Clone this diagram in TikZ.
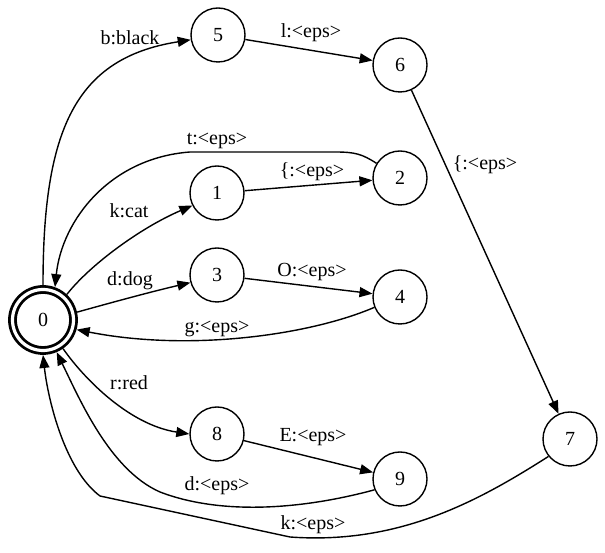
\documentclass[tikz,border=0pt]{standalone}
\usepackage{fontspec}
\setmainfont{Liberation Serif}
\usetikzlibrary{arrows.meta}

\begin{document}
\begin{tikzpicture}[
  x=1pt,y=1pt,
  line width=1.4pt,
  state/.style={draw,circle,minimum size=54pt,inner sep=0pt,font=\fontsize{20}{24}\selectfont},
  acc/.style={state,line width=2.8pt,double,double distance=3.2pt,minimum size=61pt,outer sep=4.5pt},
  lbl/.style={font=\fontsize{20}{24}\selectfont,inner sep=0pt,text height=14pt,text depth=4.5pt},
  >={Triangle[length=13pt,width=10pt]}]
\useasboundingbox (0,0) rectangle (605,553);
% states
\node[acc]   (n0) at (43,233)  {0};
\node[state] (n5) at (218,518) {5};
\node[state] (n6) at (400,488) {6};
\node[state] (n1) at (217,360) {1};
\node[state] (n2) at (400,375) {2};
\node[state] (n3) at (217,278) {3};
\node[state] (n4) at (400,256) {4};
\node[state] (n8) at (217,119) {8};
\node[state] (n9) at (400,74)  {9};
\node[state] (n7) at (570,114) {7};
% labels
\node[lbl] (lblack) at (130,513) {b:black};
\node[lbl] (l56)    at (311,520) {l:<eps>};
\node[lbl] (l67)    at (485,388) {\{:<eps>};
\node[lbl] (l20)    at (217,413) {t:<eps>};
\node[lbl] (l12)    at (312,381) {\{:<eps>};
\node[lbl] (lcat)   at (129,340) {k:cat};
\node[lbl] (ldog)   at (130,272) {d:dog};
\node[lbl] (l34)    at (312,281) {O:<eps>};
\node[lbl] (l40)    at (217,225) {g:<eps>};
\node[lbl] (lred)   at (129,168) {r:red};
\node[lbl] (l89)    at (313,116) {E:<eps>};
\node[lbl] (l90)    at (217,67)  {d:<eps>};
\node[lbl] (l70)    at (313,28)  {k:<eps>};
% transitions
\draw[->] (n0.90) .. controls (43,423) and (75,495) .. (n5.190);
\draw[->] (n5) -- (n6);
\draw[->] (n6) -- (n7);
\draw[->] (n2.148) .. controls (362,399) and (355,401) .. (335,401) -- (190,401)
  .. controls (110,395) and (62,333) .. (n0.70);
\draw[->] (n0.47) .. controls (90,288) and (140,325) .. (n1.207);
\draw[->] (n1) -- (n2);
\draw[->] (n0.13) .. controls (110,250) and (150,261) .. (n3.196);
\draw[->] (n3) -- (n4);
\draw[->] (n4.202) .. controls (310,218) and (190,201) .. (n0.344);
\draw[->] (n0.305) .. controls (85,173) and (130,128) .. (n8.180);
\draw[->] (n8) -- (n9);
\draw[->] (n9.203) .. controls (300,43) and (220,38) .. (160,61)
  .. controls (110,83) and (80,153) .. (n0.293);
\draw[->] (n7.219) .. controls (480,53) and (400,8) .. (290,16) -- (100,57)
  .. controls (65,83) and (48,153) .. (n0.270);
\end{tikzpicture}
\end{document}
